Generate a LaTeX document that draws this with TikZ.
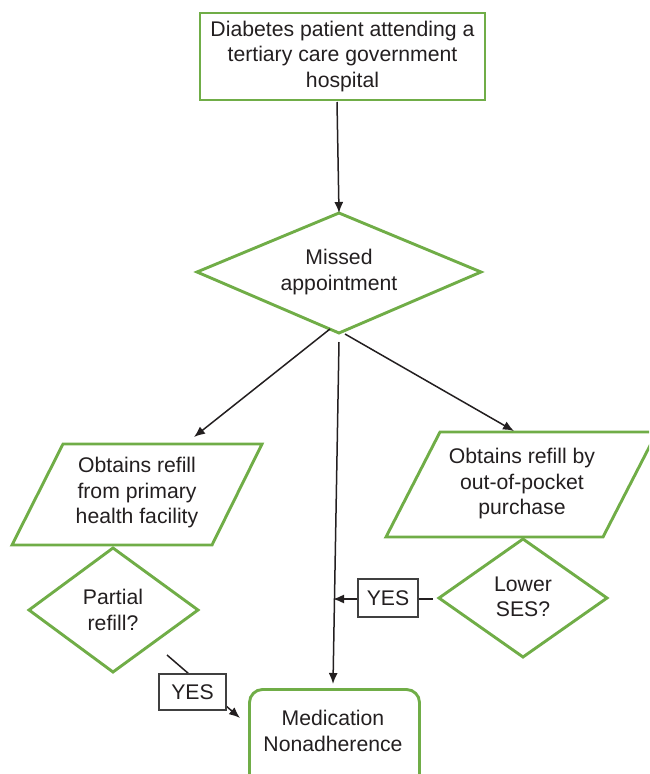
\documentclass[tikz,border=0pt]{standalone}
\usepackage{fontspec}
\setmainfont{Liberation Sans}
\usetikzlibrary{arrows.meta}
\definecolor{boxgreen}{RGB}{112,173,71}
\definecolor{txtc}{RGB}{35,31,32}
\begin{document}
\begin{tikzpicture}[x=1pt,y=-1pt,
  gshape/.style={draw=boxgreen,line width=2.9pt,line join=miter},
  txt/.style={font=\fontsize{21.2}{25.5}\selectfont,text=txtc,align=center,inner sep=0pt},
  conn/.style={draw=txtc,line width=1.5pt,-{Latex[length=11pt,width=9pt]}},
  yesbox/.style={draw=black!75,line width=1.1pt,fill=white,inner sep=0pt,
    font=\fontsize{21.2}{25.5}\selectfont,text=txtc}]
\useasboundingbox (0,0) rectangle (649,774);
\clip (0,0) rectangle (649,774);

% top box
\node[gshape,txt,rectangle,minimum width=285pt,minimum height=87pt] (top) at (342.5,56.5)
  {Diabetes patient attending a\\tertiary care government\\hospital};

% missed appointment diamond
\coordinate (mT) at (339,213);
\coordinate (mR) at (481,272);
\coordinate (mB) at (339,333);
\coordinate (mL) at (197,272);
\draw[gshape] (mT) -- (mR) -- (mB) -- (mL) -- cycle;
\node[txt] (missed) at (339,272) {Missed\\appointment};

% left parallelogram
\draw[gshape] (63,444) -- (262,444) -- (212,545) -- (12,545) -- cycle;
\node[txt] (primary) at (137,493) {Obtains refill\\from primary\\health facility};

% right parallelogram
\draw[gshape] (440,432) -- (657,432) -- (603,537) -- (386,537) -- cycle;
\node[txt] (oop) at (522,484) {Obtains refill by\\out-of-pocket\\purchase};

% partial refill diamond
\draw[gshape] (113,548) -- (198,610) -- (113,672) -- (29,610) -- cycle;
\node[txt] (partial) at (113,610) {Partial\\refill?};

% lower SES diamond
\draw[gshape] (523,539) -- (607,598) -- (523,657) -- (439,598) -- cycle;
\node[txt] (ses) at (523,597) {Lower\\SES?};

% medication nonadherence box
\draw[gshape,rounded corners=13pt] (249.5,689.5) rectangle (419.5,800);
\node[txt] (med) at (333,731) {Medication\\Nonadherence};

% connector end points
\coordinate (c1s) at (337,102);
\coordinate (c1e) at (339,213);
\coordinate (c2s) at (330,329);
\coordinate (c2e) at (194,437);
\coordinate (c3s) at (345,334);
\coordinate (c3e) at (514,431);
\coordinate (c4s) at (339,342);
\coordinate (c4e) at (333,684);
\coordinate (c5s) at (167,655);
\coordinate (c5e) at (240,718);
\coordinate (c6s) at (433,599);
\coordinate (c6e) at (333,599);

\draw[conn] (c1s) -- (c1e);
\draw[conn] (c2s) -- (c2e);
\draw[conn] (c3s) -- (c3e);
\draw[conn] (c4s) -- (c4e);
\draw[conn] (c5s) -- (c5e);
\draw[conn] (c6s) -- (c6e);

% YES labels
\node[yesbox,minimum width=67pt,minimum height=36pt] (yes1) at (192.5,692) {YES};
\node[yesbox,minimum width=60pt,minimum height=38pt] (yes2) at (388,598) {YES};
\end{tikzpicture}
\end{document}
